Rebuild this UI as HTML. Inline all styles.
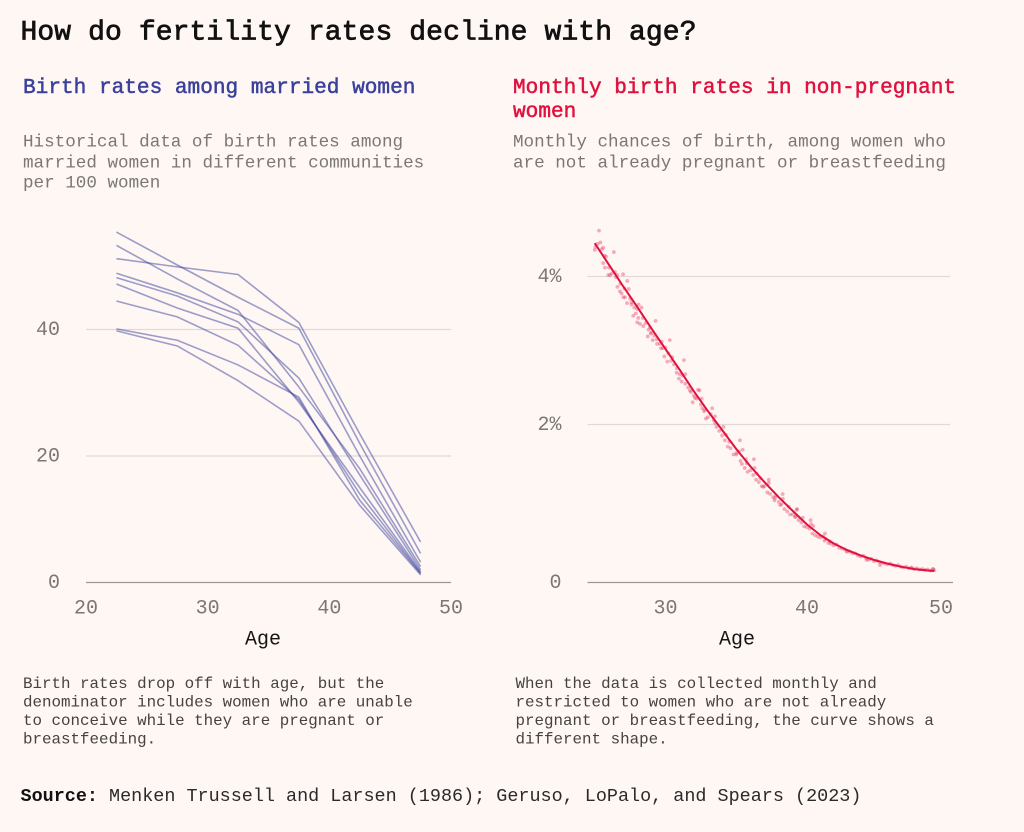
<!DOCTYPE html>
<html lang="en">
<head>
<meta charset="utf-8">
<title>How do fertility rates decline with age?</title>
<style>
html,body{margin:0;padding:0;background:#fff7f4;}
svg{display:block;}
text{font-family:"Liberation Mono",monospace;}
.title{font-size:28px;fill:#111;stroke:#111;stroke-width:.75px;letter-spacing:.1px;}
.sub{font-size:21.1px;stroke-width:.5px;}
.desc{font-size:17.6px;fill:#7a7774;}
.note{font-size:15.85px;fill:#454341;}
.src{font-size:18.45px;fill:#2a2a2a;}
.tick{font-size:20px;fill:#7a7774;}
.axt{font-size:20px;fill:#151515;}
</style>
</head>
<body>
<svg id="chart" width="1024" height="832" viewBox="0 0 1024 832" xmlns="http://www.w3.org/2000/svg">
<rect width="1024" height="832" fill="#fff7f4"/>
<text class="title" x="20.5" y="39.5">How do fertility rates decline with age?</text>

<text class="sub" x="23" y="93" fill="#3a419b" stroke="#3a419b">Birth rates among married women</text>
<g>
<text class="desc" x="23" y="146.5">Historical data of birth rates among</text>
<text class="desc" x="23" y="167.5">married women in different communities</text>
<text class="desc" x="23" y="187.5">per 100 women</text>
</g>

<text class="sub" x="513" y="93" fill="#e0103f" stroke="#e0103f">Monthly birth rates in non-pregnant</text>
<text class="sub" x="513" y="117" fill="#e0103f" stroke="#e0103f">women</text>
<g>
<text class="desc" x="513" y="146.5">Monthly chances of birth, among women who</text>
<text class="desc" x="513" y="167.5">are not already pregnant or breastfeeding</text>
</g>

<g id="left-plot"></g>
<g id="right-plot"></g>

<text class="axt" x="263" y="644.5" text-anchor="middle">Age</text>
<text class="axt" x="737" y="644.5" text-anchor="middle">Age</text>

<g>
<text class="note" x="23" y="688">Birth rates drop off with age, but the</text>
<text class="note" x="23" y="706.5">denominator includes women who are unable</text>
<text class="note" x="23" y="725">to conceive while they are pregnant or</text>
<text class="note" x="23" y="743.5">breastfeeding.</text>
</g>
<g>
<text class="note" x="515.5" y="688">When the data is collected monthly and</text>
<text class="note" x="515.5" y="706.5">restricted to women who are not already</text>
<text class="note" x="515.5" y="725">pregnant or breastfeeding, the curve shows a</text>
<text class="note" x="515.5" y="743.5">different shape.</text>
</g>
<text class="src" x="20.5" y="801"><tspan font-weight="700" fill="#111">Source:</tspan> Menken Trussell and Larsen (1986); Geruso, LoPalo, and Spears (2023)</text>
</svg>

<script>
const leftAges = [22.5, 27.5, 32.5, 37.5, 42.5, 47.5];
const community1 = [55.4, 50.2, 45.1, 40.2, 22.0, 4.6];
const community2 = [53.3, 48.0, 43.0, 30.9, 18.0, 2.5];
const community3 = [51.2, 49.9, 48.7, 41.1, 23.5, 6.4];
const community4 = [48.9, 45.8, 42.4, 37.6, 20.0, 3.2];
const community5 = [48.2, 45.3, 41.2, 32.3, 17.0, 2.0];
const community6 = [47.2, 43.4, 40.2, 28.5, 15.0, 1.7];
const community7 = [44.5, 42.0, 37.5, 28.9, 14.0, 1.5];
const community8 = [40.1, 38.3, 34.4, 29.3, 13.0, 1.4];
const community9 = [39.8, 37.4, 31.9, 25.5, 12.2, 1.2];
const leftSeries = [community1, community2, community3, community4, community5, community6, community7, community8, community9];
const leftXTicks = [20, 30, 40, 50];
const leftYTicks = [0, 20, 40];

const curveAges = [25,26,27,28,29,30,31,32,33,34,35,36,37,38,39,40,41,42,43,44,45,46,47,48,49,49.5];
const curveRates = [4.45,4.16,3.87,3.59,3.30,3.02,2.74,2.45,2.18,1.93,1.69,1.47,1.27,1.08,0.905,0.734,0.60,0.494,0.41,0.342,0.285,0.24,0.20,0.17,0.152,0.146];
const rightXTicks = [30, 40, 50];
const rightYTicks = [0, 2, 4];
const rightYLabels = ['0', '2%', '4%'];

const dotAges = [25,25.05,25.2,25.3,25.4,25.5,25.6,25.7,25.8,26,26.2,26.35,26.5,26.6,26.8,27,27.1,27.3,27.4,27.5,27.6,27.8,28,28.1,28.3,28.4,28.6,28.8,28.9,29,29.2,29.3,29.4,29.6,29.8,30,30.2,30.3,30.4,30.6,30.8,31,31.2,31.3,31.4,31.6,31.8,32,32.2,32.4,32.5,32.6,32.8,33,33.2,33.4,33.5,33.6,33.8,34,34.1,34.2,34.4,34.5,34.6,34.8,35,35.2,35.3,35.4,35.6,35.7,35.8,36,36.2,36.3,36.4,36.6,36.7,36.8,37,37.2,37.3,37.4,37.6,37.7,37.8,38,38.2,38.3,38.4,38.6,38.7,38.8,39,39.2,39.3,39.4,39.6,39.7,39.8,40,40.2,40.3,40.4,40.6,40.8,41,41.2,41.3,41.4,41.6,41.8,42,42.2,42.4,42.6,42.8,43,43.2,43.4,43.6,43.8,44,44.2,44.4,44.6,44.8,45,45.2,45.4,45.6,45.8,46,46.2,46.4,46.6,46.8,47,47.2,47.4,47.6,47.8,48,48.2,48.4,48.6,48.8,49,49.2,49.4,49.5];
const dotRates = [4.36,4.40,4.44,4.62,4.46,4.37,4.39,4.28,4.27,4.12,4.04,4.33,3.99,4.02,3.90,4.03,3.84,3.94,3.83,3.70,3.62,3.58,3.56,3.62,3.58,3.44,3.37,3.28,3.31,3.24,3.20,3.40,3.09,3.09,3.03,3.04,2.96,3.14,2.86,2.81,2.76,2.68,2.66,2.87,2.55,2.50,2.44,2.39,2.35,2.46,2.27,2.22,2.20,2.10,2.14,2.06,2.02,1.97,1.92,1.86,1.97,1.80,1.72,1.78,1.70,1.62,1.62,1.66,1.54,1.50,1.45,1.56,1.40,1.42,1.36,1.45,1.30,1.27,1.32,1.22,1.22,1.14,1.26,1.12,1.08,1.04,1.10,1.02,0.99,1.06,0.93,0.90,0.96,0.86,0.86,0.83,0.93,0.79,0.76,0.82,0.71,0.70,0.68,0.74,0.62,0.60,0.58,0.57,0.58,0.53,0.55,0.50,0.49,0.47,0.48,0.44,0.43,0.42,0.40,0.39,0.37,0.37,0.34,0.33,0.34,0.31,0.29,0.30,0.27,0.28,0.26,0.25,0.24,0.23,0.24,0.22,0.21,0.22,0.20,0.19,0.20,0.18,0.18,0.17,0.18,0.165,0.17,0.16,0.165,0.15,0.17,0.155,0.165];
const extraDotAges = [25.96,26.08,26.43,25.6,25.72,26.6,26.78,26.9,27.02,27.14,27.28,27.6,27.72,27.9,28.08,28,28.2,28.43,28.74,28.95,29.1,29.38,29.73,29.68,29.92,30.13,30.48,30.79,30.95,31.14,31.4,31.73,32.3,32.08,32.56,31.92,32.72,33.3,32.86,33.5,34.27,35.26,35.03,35.45,35.74,36.25,36.44,36.9,37.3,37.74,38.28,38.1,39.27,39.15,40.27,40.47,41.34,41.7,42.96,44.45,45.45,47.8,49.4];
const extraDotRates = [4.02,4.02,4.06,4.18,4.12,3.86,3.80,3.77,3.72,3.72,3.64,3.65,3.47,3.50,3.44,3.38,3.36,3.33,3.19,3.23,3.14,3.15,3.12,3.03,2.92,2.85,2.91,2.70,2.62,2.58,2.68,2.46,2.47,2.36,2.35,2.30,2.18,2.22,2.08,2.11,1.87,1.80,1.64,1.68,1.51,1.56,1.38,1.21,1.30,1.07,1.12,0.98,0.92,0.83,0.79,0.715,0.62,0.52,0.39,0.285,0.22,0.19,0.167];

const NS = 'http://www.w3.org/2000/svg';

function polyScale(domain, range) {
  return function (v) {
    let i = 0;
    while (i < domain.length - 2 && v > domain[i + 1]) i++;
    const t = (v - domain[i]) / (domain[i + 1] - domain[i]);
    return range[i] + t * (range[i + 1] - range[i]);
  };
}
function mk(parent, tag, attrs) {
  const el = document.createElementNS(NS, tag);
  for (const k in attrs) el.setAttribute(k, attrs[k]);
  parent.appendChild(el);
  return el;
}

const lx = polyScale([20, 50], [86, 451]);
const ly = polyScale([0, 40], [582.5, 329.5]);
const rx = polyScale([30, 40, 50], [665.5, 807, 941]);
const ry = polyScale([0, 2, 4], [582.5, 424.5, 276.5]);

const leftPlot = document.getElementById('left-plot');
const rightPlot = document.getElementById('right-plot');

leftYTicks.forEach(function (t) {
  const line = mk(leftPlot, 'line', {x1: 86, x2: 451, y1: ly(t), y2: ly(t), stroke: t === 0 ? '#9c9792' : '#dfdad5', 'stroke-width': t === 0 ? 1.3 : 1.2});
  
  
  const lab = mk(leftPlot, 'text', {class: 'tick', x: 60, y: ly(t) + 5.5, 'text-anchor': 'end'});
  lab.textContent = String(t);
  
  
});
leftXTicks.forEach(function (t) {
  const lab = mk(leftPlot, 'text', {class: 'tick', x: lx(t), y: 613.5, 'text-anchor': 'middle'});
  lab.textContent = String(t);
  
  
});
leftSeries.forEach(function (vals) {
  const pts = vals.map(function (v, i) { return lx(leftAges[i]) + ',' + ly(v); }).join(' ');
  const line = mk(leftPlot, 'polyline', {points: pts, fill: 'none', stroke: '#3a419b', 'stroke-opacity': 0.5, 'stroke-width': 1.6});
  
  
});

rightYTicks.forEach(function (t, i) {
  const line = mk(rightPlot, 'line', {x1: 587.5, x2: t === 0 ? 953 : 950, y1: ry(t), y2: ry(t), stroke: t === 0 ? '#9c9792' : '#dfdad5', 'stroke-width': t === 0 ? 1.3 : 1.2});
  
  
  const lab = mk(rightPlot, 'text', {class: 'tick', x: 561.5, y: ry(t) + 5.5, 'text-anchor': 'end'});
  lab.textContent = rightYLabels[i];
  
  
});
rightXTicks.forEach(function (t) {
  const lab = mk(rightPlot, 'text', {class: 'tick', x: rx(t), y: 613.5, 'text-anchor': 'middle'});
  lab.textContent = String(t);
  
  
});
dotAges.forEach(function (a, i) {
  const dot = mk(rightPlot, 'circle', {cx: rx(a), cy: ry(dotRates[i]), r: 1.9, fill: '#e0305f', 'fill-opacity': 0.38});
  
  
});
extraDotAges.forEach(function (a, i) {
  const dot = mk(rightPlot, 'circle', {cx: rx(a), cy: ry(extraDotRates[i]), r: 1.9, fill: '#e0305f', 'fill-opacity': 0.38});
  
  
});
const curvePts = curveAges.map(function (a, i) { return rx(a) + ',' + ry(curveRates[i]); }).join(' ');
const curve = mk(rightPlot, 'polyline', {points: curvePts, fill: 'none', stroke: '#e0103f', 'stroke-width': 2, 'stroke-linejoin': 'round'});


</script>
</body>
</html>
